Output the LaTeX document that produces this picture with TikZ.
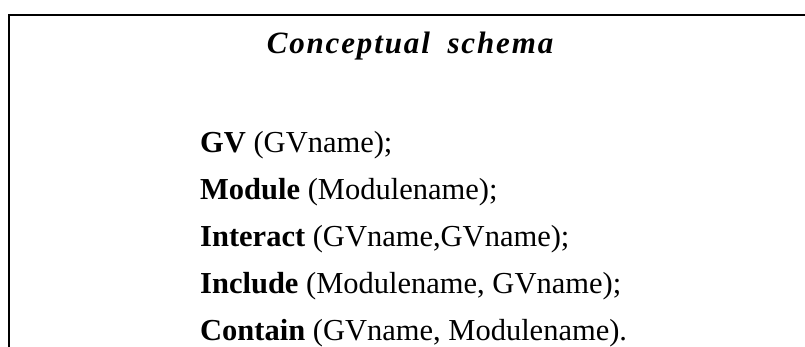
\documentclass[tikz,border=0pt]{standalone}
\usepackage{fontspec}
\setmainfont{Liberation Serif}
\newfontfamily\titlefont[LetterSpace=6]{Liberation Serif}
\begin{document}
\begin{tikzpicture}[x=1pt,y=-1pt,
  frameline/.style={line width=2.6pt,black},
  body/.style={anchor=base west,inner sep=0pt,font=\fontsize{30.5}{36}\selectfont},
  titletext/.style={anchor=base,inner sep=0pt,font=\titlefont\fontsize{31}{36}\selectfont\bfseries\itshape}]
\useasboundingbox (0,0) rectangle (805,346);
\draw[frameline] (9,347) -- (9,15) -- (806,15);
\node[titletext] (title) at (410,53) {Conceptual\hspace{8pt} schema};
\node[body] (gv) at (200,152) {\textbf{GV} (GVname);};
\node[body] (module) at (200,199) {\textbf{Module} (Modulename);};
\node[body] (interact) at (200,246) {\textbf{Interact} (GVname,GVname);};
\node[body] (include) at (200,293) {\textbf{Include} (Modulename, GVname);};
\node[body] (contain) at (200,340) {\textbf{Contain} (GVname, Modulename).};
\end{tikzpicture}
\end{document}
